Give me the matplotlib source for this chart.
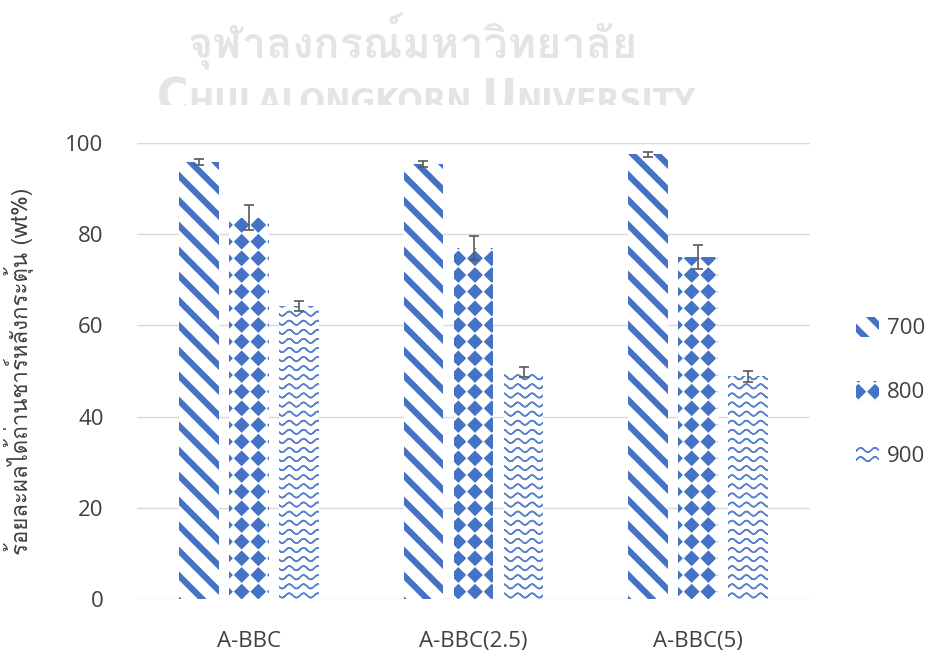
import warnings
import numpy as np
import matplotlib
matplotlib.use("Agg")
import matplotlib.pyplot as plt
from matplotlib import font_manager, ft2font
from matplotlib.font_manager import FontProperties
from matplotlib.hatch import HatchPatternBase, _hatch_types
from matplotlib.path import Path
from matplotlib.transforms import Bbox, TransformedBbox

warnings.filterwarnings("ignore")

# ---- data -------------------------------------------------------------
categories = ["A-BBC", "A-BBC(2.5)", "A-BBC(5)"]
series_names = ["700", "800", "900"]
yield_700 = [95.8, 95.4, 97.5]
yield_800 = [83.6, 77.0, 75.0]
yield_900 = [64.3, 49.8, 48.8]
err_700 = [0.6, 0.6, 0.55]
err_800 = [2.7, 2.6, 2.7]
err_900 = [1.1, 1.15, 1.2]
y_ticks = [0, 20, 40, 60, 80, 100]
y_label = "ร้อยละผลได้ถ่านชาร์หลังกระตุ้น (wt%)"
wm_thai = "จุฬาลงกรณ์มหาวิทยาลัย"
wm_parts = [("C", True), ("HULALONGKORN ", False), ("U", True), ("NIVERSITY", False)]

BLUE = "#4472C4"
BLUE_LIGHT = "#5B84CC"
TEXT = "#404040"
GRID = "#D9D9D9"
WM = "#E4E4E4"


# ---- fonts ------------------------------------------------------------
def family_with(char):
    for fe in font_manager.fontManager.ttflist:
        try:
            f = ft2font.FT2Font(fe.fname)
            if f.get_char_index(ord(char)):
                return fe.name
        except Exception:
            pass
    return None


def installed(name):
    try:
        font_manager.findfont(name, fallback_to_default=False)
        return True
    except Exception:
        return False


def narrow_bold_props():
    """A condensed bold face for the banner lettering, if one exists."""
    for fe in font_manager.fontManager.ttflist:
        low = fe.fname.lower()
        if ("condensed" in low or "narrow" in low) and "bold" in low \
                and "oblique" not in low and "italic" not in low:
            return FontProperties(fname=fe.fname)
    return FontProperties(family="DejaVu Sans", weight="bold")


thai = family_with("ก")
LATIN = "Open Sans" if installed("Open Sans") else "DejaVu Sans"
fam = [LATIN] + ([thai] if thai else []) + ["DejaVu Sans"]
thai_fam = ([thai] if thai else []) + [LATIN, "DejaVu Sans"]
plt.rcParams["font.family"] = fam


# ---- fill patterns ----------------------------------------------------
class DiagonalBands(HatchPatternBase):
    """Thick '\\' bands drawn as filled parallelograms (pattern char 'k')."""

    def __init__(self, hatch, density):
        self.n = 4
        self.offsets = np.arange(-self.n, 2 * self.n + 1) / self.n
        self.num_vertices = 5 * len(self.offsets) if "k" in hatch else 0

    def set_vertices_and_codes(self, vertices, codes):
        w = 0.26 / self.n
        pts = []
        for c in self.offsets:
            pts += [(-1, c + 1), (2, c - 2), (2, c - 2 + w), (-1, c + 1 + w), (-1, c + 1)]
        vertices[:] = pts
        codes[:] = [Path.MOVETO, Path.LINETO, Path.LINETO, Path.LINETO,
                    Path.CLOSEPOLY] * len(self.offsets)


class DiamondGrid(HatchPatternBase):
    """Square grid of filled diamonds (pattern char 'd')."""

    def __init__(self, hatch, density):
        self.n = 6
        self.num_vertices = 5 * self.n ** 2 if "d" in hatch else 0

    def set_vertices_and_codes(self, vertices, codes):
        r = 0.068
        pts = []
        for i in range(self.n):
            for j in range(self.n):
                cx, cy = (i + 0.5) / self.n, (j + 0.5) / self.n
                pts += [(cx, cy + r), (cx + r, cy), (cx, cy - r), (cx - r, cy), (cx, cy + r)]
        vertices[:] = pts
        codes[:] = [Path.MOVETO, Path.LINETO, Path.LINETO, Path.LINETO,
                    Path.CLOSEPOLY] * self.n ** 2


class WaveLines(HatchPatternBase):
    """Horizontal wavy lines (pattern char 'w')."""

    def __init__(self, hatch, density):
        self.rows = 11
        self.m = 85
        self.num_vertices = 2 * self.m * self.rows if "w" in hatch else 0

    def set_vertices_and_codes(self, vertices, codes):
        xs = np.linspace(-0.02, 1.02, self.m)
        parts = []
        for k in range(self.rows):
            ys = (k + 0.5) / self.rows + 0.022 * np.sin(2 * np.pi * 7 * xs)
            fwd = np.column_stack([xs, ys])
            parts.append(np.vstack([fwd, fwd[::-1]]))
        vertices[:] = np.vstack(parts)
        c = np.full(2 * self.m, Path.LINETO, dtype=Path.code_type)
        c[0] = Path.MOVETO
        codes[:] = np.tile(c, self.rows)


_hatch_types.extend([DiagonalBands, DiamondGrid, WaveLines])
plt.rcParams["hatch.linewidth"] = 1.1
plt.rcParams["hatch.color"] = BLUE

# ---- figure -----------------------------------------------------------
W, H = 930, 654
fig = plt.figure(figsize=(W / 100, H / 100), dpi=100, facecolor="white")

# faint institutional watermark across the top
wm = fig.add_axes([0, 0, 1, 1], zorder=0)
wm.set_xlim(0, W)
wm.set_ylim(H, 0)
wm.axis("off")
renderer = fig.canvas.get_renderer()

t = wm.text(413, 59, wm_thai, ha="center", va="baseline", color=WM,
            fontsize=40, fontweight="bold", family=thai_fam)
bb = t.get_window_extent(renderer)
t.set_fontsize(40 * 450 / bb.width)

banner = narrow_bold_props()
clip = TransformedBbox(Bbox([[0, 0], [W, 105]]), wm.transData)
big_pt, small_pt = 42.0, 29.5
pieces = []
for txt, big in wm_parts:
    p = wm.text(0, 0, txt, ha="left", va="baseline", color=WM,
                fontproperties=banner)
    p.set_fontsize(big_pt if big else small_pt)
    p.set_clip_box(clip)
    p.set_clip_on(True)
    pieces.append((p, big))
total = sum(p.get_window_extent(renderer).width for p, _ in pieces)
scale = min(1.0, 540 / total)
big_pt *= scale
small_pt *= scale
baseline = 78 + 0.73 * big_pt * 100 / 72
xpos = 157
for p, big in pieces:
    p.set_fontsize(big_pt if big else small_pt)
    p.set_position((xpos, baseline))
    xpos += p.get_window_extent(renderer).width

# main chart
ax = fig.add_axes([137 / W, 1 - 599 / H, 673 / W, 456 / H], zorder=1)
ax.patch.set_alpha(0)
x = np.arange(len(categories))
width = 0.176
step = 0.223
values = [yield_700, yield_800, yield_900]
errors = [err_700, err_800, err_900]
patterns = ["k", "d", "w"]
colors = [BLUE, BLUE, BLUE_LIGHT]
for i, (vals, errs, pat, col, name) in enumerate(
        zip(values, errors, patterns, colors, series_names)):
    ax.bar(x + (i - 1) * step, vals, width, yerr=errs, facecolor="white",
           edgecolor=col, linewidth=0, hatch=pat, label=name, zorder=2,
           error_kw=dict(ecolor="#595959", elinewidth=1.2, capsize=3.6,
                         capthick=1.2, zorder=3))

ax.set_xlim(-0.5, len(categories) - 0.5)
ax.set_ylim(0, 100)
ax.set_yticks(y_ticks)
ax.set_xticks(x)
ax.set_xticklabels(categories)
ax.yaxis.grid(True, color=GRID, linewidth=1.0, zorder=0)
ax.set_axisbelow(True)
for s in ax.spines.values():
    s.set_visible(False)
ax.tick_params(axis="both", length=0, labelsize=16, labelcolor=TEXT)
ax.tick_params(axis="y", pad=24)
ax.tick_params(axis="x", pad=23)

ax.set_ylabel(y_label, fontsize=16, color=TEXT, family=thai_fam)
ax.yaxis.set_label_coords(-0.153, 0.5)

ax.legend(loc="center left", bbox_to_anchor=(856 / W, 1 - 392 / H),
          bbox_transform=fig.transFigure, frameon=False, fontsize=16,
          handlelength=1.05, handleheight=1.05, labelspacing=1.85,
          handletextpad=0.36, borderpad=0, borderaxespad=0,
          labelcolor=TEXT)

fig.savefig("out.png", dpi=100, facecolor="white")
